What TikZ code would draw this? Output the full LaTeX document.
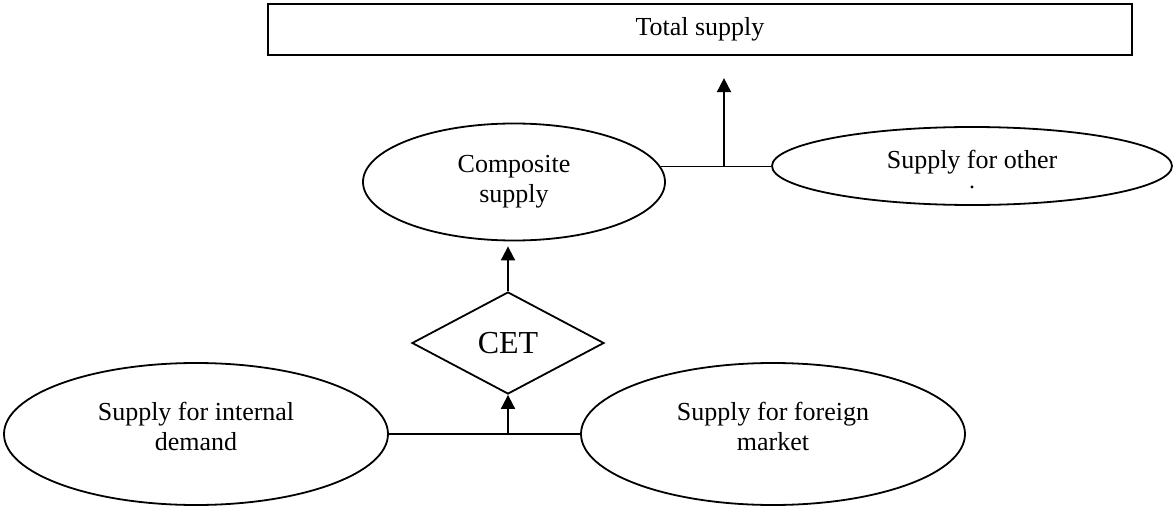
\documentclass[tikz,border=0pt]{standalone}
\usepackage{fontspec}
\setmainfont{Liberation Serif}
\usepackage{tikz}
\usetikzlibrary{shapes.geometric,arrows.meta,calc}

\begin{document}
\begin{tikzpicture}[x=0.5pt,y=-0.5pt,
  font=\fontsize{13}{15}\selectfont,
  every node/.style={inner sep=0pt,align=center},
  oval/.style={draw,ellipse,line width=0.9pt},
  box/.style={draw,rectangle,line width=1.1pt},
  link/.style={line width=0.9pt},
  uparrow/.style={line width=0.9pt,-{Triangle[length=7pt,width=7pt]}}]
\useasboundingbox (0,0) rectangle (1173,508);
\node[box,minimum width=432pt,minimum height=25.5pt] (total) at (700,29.5) {Total supply}; % top box
\node[oval,minimum width=151pt,minimum height=58.5pt] (compo) at (514,182) {Composite\\supply};
\node[oval,minimum width=200pt,minimum height=39pt] (other) at (972,166) {};
\node at ($(other)+(0,4)$) {Supply for other\\[-5pt]{\fontsize{12}{12}\selectfont .}};
\node[draw,diamond,line width=0.9pt,minimum width=96pt,minimum height=51pt,font=\fontsize{16}{18}\selectfont] (cet) at (508,343) {CET};
\node[oval,minimum width=192pt,minimum height=71pt] (internal) at (196,434) {};
\node at ($(internal)+(0,-8)$) {Supply for internal\\demand};
\node[oval,minimum width=192pt,minimum height=71pt] (foreign) at (773,434) {};
\node at ($(foreign)+(0,-8)$) {Supply for foreign\\market};
% bottom join
\coordinate (j1) at (508,434);
\draw[link] (internal.east) -- (foreign.west);
\draw[uparrow] (j1) -- (cet.south);
\draw[uparrow,shorten >=2.5pt] (cet.north) -- (cet.north |- compo.south);
% top join
\coordinate (j2) at (724,166.5);
\draw[link] (compo.6) -- (compo.6 -| other.west);
\draw[uparrow,shorten >=11pt] (j2) -- (j2 |- total.south);
\end{tikzpicture}
\end{document}
